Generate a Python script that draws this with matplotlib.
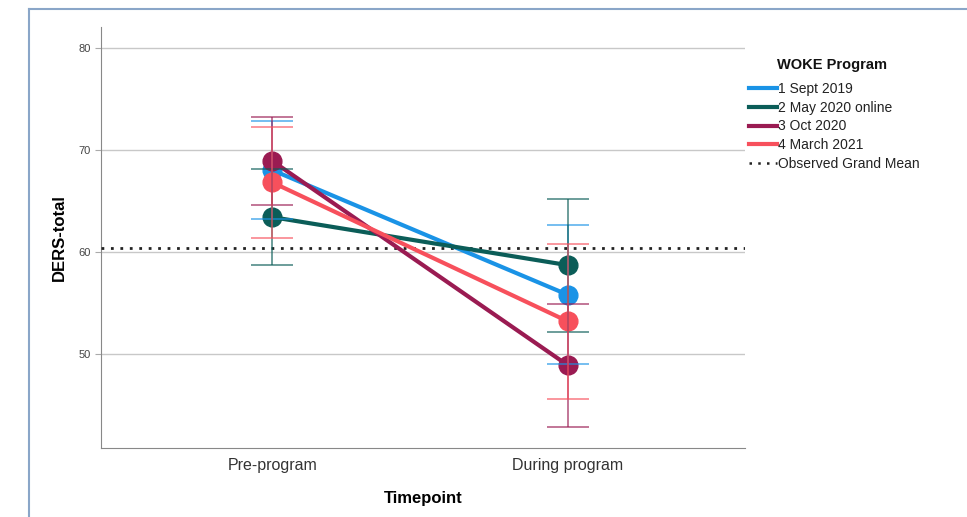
import matplotlib.pyplot as plt
from matplotlib.lines import Line2D

plt.rcParams['font.family'] = ['Liberation Sans', 'DejaVu Sans']

timepoints = ['Pre-program', 'During program']
groups = ['1 Sept 2019', '2 May 2020 online', '3 Oct 2020', '4 March 2021']
colors = ['#1a93e6', '#0b5d58', '#9a1b52', '#f7505c']

# estimated marginal means and 95% CI half-widths
means = [[68.0, 55.8],
         [63.4, 58.7],
         [68.9, 48.9],
         [66.8, 53.2]]
ci = [[4.8, 6.8],
      [4.7, 6.5],
      [4.35, 6.0],
      [5.45, 7.6]]
grand_mean = 60.4

fig = plt.figure(figsize=(9.67, 5.17), dpi=100)
ax = fig.add_axes([0.1044, 0.1335, 0.666, 0.814])

x = [0, 1]
ax.axhline(grand_mean, color='#222222', lw=2, ls=(0, (1, 2.4)), zorder=3)
for i, g in enumerate(groups):
    ax.plot(x, means[i], color=colors[i], lw=3, marker='o', ms=13.5, zorder=4, label=g)
for i, g in enumerate(groups):
    ax.errorbar(x, means[i], yerr=ci[i], fmt='none', ecolor=colors[i],
                elinewidth=1.3, capsize=15, capthick=1.3, alpha=0.65, zorder=5)

ax.set_xlim(-0.58, 1.6)
ax.set_ylim(40.8, 82)
ax.set_yticks([50, 60, 70, 80])
ax.set_xticks(x)
ax.set_xticklabels(timepoints, fontsize=11.5, color='#333333')
ax.tick_params(axis='y', labelsize=8, colors='#444444', length=4, color='#aaaaaa')
ax.tick_params(axis='x', length=0, pad=7)
ax.grid(axis='y', color='#c8c8c8', lw=1)
ax.set_axisbelow(True)
for s in ['top', 'right']:
    ax.spines[s].set_visible(False)
for s in ['left', 'bottom']:
    ax.spines[s].set_color('#888888')

ax.set_xlabel('Timepoint', fontsize=12, fontweight='bold', labelpad=13)
ax.set_ylabel('DERS-total', fontsize=12, fontweight='bold', labelpad=8)

handles = [Line2D([0], [0], color=c, lw=3) for c in colors]
handles.append(Line2D([0], [0], color='#222222', lw=1.8, ls=(0, (1, 2.5))))
leg = fig.legend(handles, groups + ['Observed Grand Mean'],
                 loc='upper left', bbox_to_anchor=(0.7745, 0.842), frameon=False,
                 fontsize=10, handlelength=2.0, handletextpad=0.1, labelspacing=0.35,
                 borderaxespad=0, borderpad=0)
for t in leg.get_texts():
    t.set_color('#222222')
fig.text(777/967, 1 - 65/517, 'WOKE Program', fontsize=10.5, fontweight='bold',
         va='center', ha='left', color='#111111')

# frame around the chart
fig.add_artist(Line2D([29/967, 29/967], [0, 1 - 9/517], color='#8aa6c8', lw=1.5))
fig.add_artist(Line2D([29/967, 1], [1 - 9/517, 1 - 9/517], color='#8aa6c8', lw=1.5))

fig.savefig('out.png', dpi=100)
